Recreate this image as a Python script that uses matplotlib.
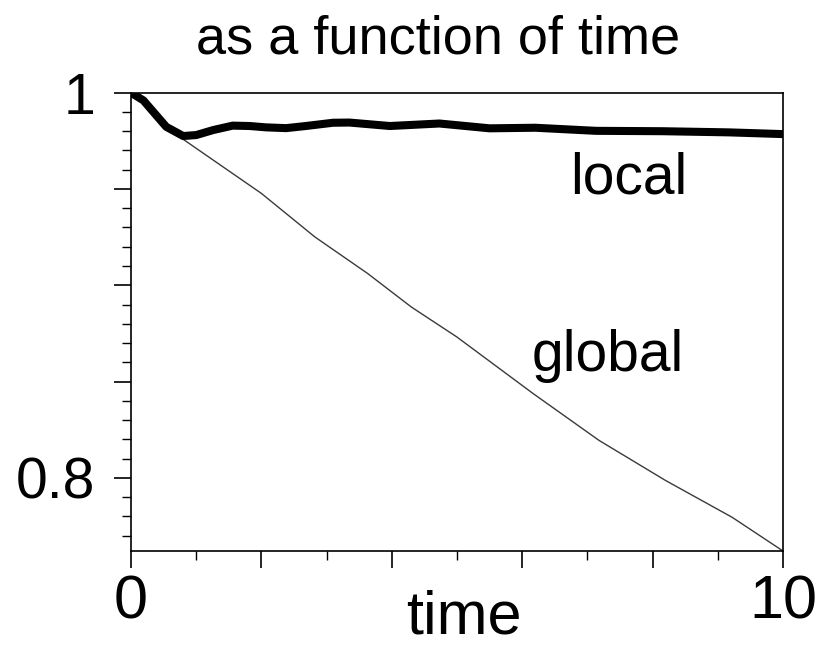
import matplotlib
matplotlib.use("Agg")
import matplotlib.pyplot as plt
from matplotlib import font_manager
from matplotlib.ticker import MultipleLocator, FixedLocator

# ---- data ----
local_t = [0, 0.19, 0.54, 0.80, 1.0, 1.26, 1.56, 1.82, 2.07, 2.38, 2.68, 3.1, 3.35,
           3.97, 4.73, 5.5, 6.2, 7.13, 8.15, 9.17, 10]
local_y = [1.0, 0.996, 0.9823, 0.9775, 0.978, 0.9806, 0.9829, 0.9827, 0.982, 0.9816,
           0.9827, 0.9844, 0.9845, 0.9827, 0.984, 0.9815, 0.9818, 0.9802, 0.980, 0.9794, 0.9785]
global_t = [0, 0.19, 0.54, 0.80, 2.0, 2.41, 2.82, 3.63, 4.3, 5.0, 6.17, 7.18, 8.2, 9.22, 10]
global_y = [1.0, 0.996, 0.9823, 0.9758, 0.9477, 0.9364, 0.9251, 0.9061, 0.8887, 0.8731,
            0.8437, 0.8194, 0.7986, 0.7795, 0.762]
xtick_labels = {0: "0", 10: "10"}
ytick_labels = {0.8: "0.8", 1.0: "1"}
title = "as a function of time"
xlabel = "time"

W, H = 816, 647
base = "Liberation Sans"
try:
    font_manager.findfont("Liberation Sans Narrow", fallback_to_default=False)
    narrow = "Liberation Sans Narrow"
    nsize = 50
except Exception:
    narrow = base
    nsize = 44

plt.rcParams['font.family'] = [base, 'DejaVu Sans']

fig = plt.figure(figsize=(W / 100, H / 100), dpi=100)
ax = fig.add_axes([131 / W, 1 - 551 / H, (783 - 131) / W, (551 - 92.7) / H])

ax.plot(global_t, global_y, color="#3a3a3a", lw=1.0, solid_joinstyle="round")
ax.plot(local_t, local_y, color="black", lw=5.8, solid_joinstyle="round",
        solid_capstyle="round")

ax.set_xlim(0, 10)
ax.set_ylim(0.762, 1.0)

ax.xaxis.set_minor_locator(MultipleLocator(1))
ax.yaxis.set_minor_locator(MultipleLocator(0.01))

ax.set_xticks([0, 2, 4, 6, 8, 10])
ax.set_xticklabels([xtick_labels.get(v, "") for v in [0, 2, 4, 6, 8, 10]],
                   fontfamily=narrow, fontsize=nsize)
ax.set_yticks([0.8, 0.85, 0.9, 0.95, 1.0])
ax.set_yticklabels([ytick_labels.get(v, "") for v in [0.8, 0.85, 0.9, 0.95, 1.0]],
                   fontsize=41)

ax.tick_params(axis="both", which="major", direction="out", length=12, width=1.2,
               color="black")
ax.tick_params(axis="both", which="minor", direction="out", length=6.5, width=1.0,
               color="black")
ax.tick_params(axis="y", which="major", pad=14)
ax.tick_params(axis="x", which="major", pad=5)

for s in ax.spines.values():
    s.set_linewidth(1.2)
    s.set_color("black")

fig.text(438 / W, 1 - 53 / H, title, ha="center", va="baseline", fontsize=39)
fig.text(464 / W, 1 - 633 / H, xlabel, ha="center", va="baseline",
         fontfamily=narrow, fontsize=nsize)
fig.text(570 / W, 1 - 193 / H, "local", ha="left", va="baseline", fontsize=41)
fig.text(532 / W, 1 - 371 / H, "global", ha="left", va="baseline", fontsize=41)

fig.savefig("out.png", dpi=100, facecolor="white")
